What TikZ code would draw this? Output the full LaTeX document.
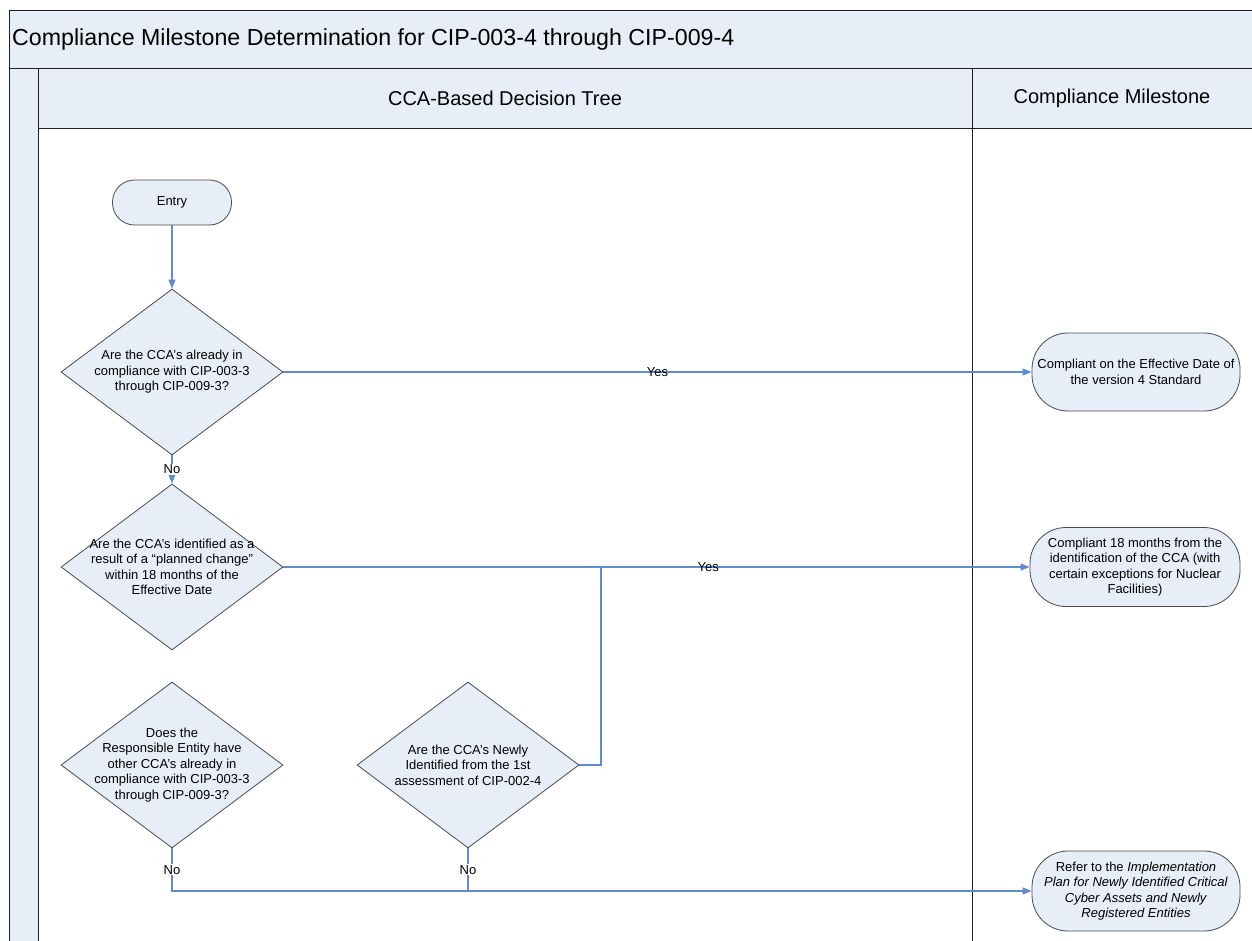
\documentclass[tikz,border=0pt]{standalone}
\usepackage{fontspec}
\setmainfont{Liberation Sans}
\usetikzlibrary{shapes.geometric,arrows.meta}
\definecolor{lanefill}{RGB}{232,238,248}
\definecolor{conn}{RGB}{96,140,206}
\definecolor{frame}{RGB}{30,30,30}
\begin{document}
\begin{tikzpicture}[x=1pt,y=-1pt,
  decision/.style={diamond,draw=frame!80,fill=lanefill,line width=0.8pt,minimum width=222pt,minimum height=166pt,inner sep=0pt},
  qtext/.style={align=center,font=\fontsize{13}{15.5}\selectfont,inner sep=0pt},
  terminal/.style={draw=frame!80,fill=lanefill,line width=0.8pt,align=center,font=\fontsize{13}{15.5}\selectfont,inner sep=0pt},
  link/.style={draw=conn,line width=1.1pt},
  arr/.style={link,-{Triangle[length=9pt,width=7pt]}},
  lbl/.style={font=\fontsize{13}{15}\selectfont,inner sep=1pt,fill=white},
  lblt/.style={font=\fontsize{13}{15}\selectfont,inner sep=1pt}
]
\useasboundingbox (0,0) rectangle (1252,941);
\fill[white] (0,0) rectangle (1252,941);
% frame and lanes
\fill[lanefill] (9,10) rectangle (1252,68);
\fill[lanefill] (9,68) rectangle (38,941);
\fill[lanefill] (38,68) rectangle (1252,128);
\draw[frame,line width=0.9pt] (1252,10) -- (9,10) -- (9,941);
\draw[frame,line width=0.9pt] (9,68) -- (1252,68);
\draw[frame,line width=0.9pt] (38,68) -- (38,941);
\draw[frame,line width=0.9pt] (38,128) -- (1252,128);
\draw[frame,line width=0.9pt] (972,68) -- (972,941);
\node[anchor=west,font=\fontsize{23.2}{26}\selectfont,inner sep=0pt] (title) at (12,40) {Compliance Milestone Determination for CIP-003-4 through CIP-009-4};
\node[font=\fontsize{20}{23}\selectfont,inner sep=0pt] (hdrA) at (505,98) {CCA-Based Decision Tree};
\node[font=\fontsize{20}{23}\selectfont,inner sep=0pt] (hdrB) at (1112,98) {Compliance Milestone};

% nodes
\node[terminal,minimum width=119pt,minimum height=45pt,rounded corners=22pt] (entry) at (172,202.5) {Entry};
\node[decision] (d1) at (172,372) {};
\node[qtext] (t1) at (172,372) {Are the CCA's already in\\compliance with CIP-003-3\\through CIP-009-3?};
\node[decision] (d2) at (172,567) {};
\node[qtext] (t2) at (172,567) {Are the CCA's identified as a\\result of a ``planned change''\\within 18 months of the\\Effective Date};
\node[decision] (d3) at (172,765) {};
\node[qtext] (t3) at (172,765) {Does the\\Responsible Entity have\\other CCA's already in\\compliance with CIP-003-3\\through CIP-009-3?};
\node[decision] (d4) at (468,765) {};
\node[qtext] (t4) at (468,765) {Are the CCA's Newly\\Identified from the 1st\\assessment of CIP-002-4};

\node[terminal,minimum width=208pt,minimum height=78pt,rounded corners=36pt] (m1) at (1136,372) {Compliant on the Effective Date of\\the version 4 Standard};
\node[terminal,minimum width=210pt,minimum height=79pt,rounded corners=36pt] (m2) at (1135,567) {Compliant 18 months from the\\identification of the CCA (with\\certain exceptions for Nuclear\\Facilities)};
\node[terminal,minimum width=208pt,minimum height=80pt,rounded corners=36pt] (m3) at (1136,891) {Refer to the \textit{Implementation}\\\textit{Plan for Newly Identified Critical}\\\textit{Cyber Assets and Newly}\\\textit{Registered Entities}};

\coordinate (j1) at (601,567);
\coordinate (j2) at (601,765);
\coordinate (b3) at (172,891);
\coordinate (b4) at (468,891);

% connectors
\draw[arr] (entry.south) -- (d1.north);
\draw[arr] (d1.south) -- node[lbl]{No} (d2.north);
\draw[arr] (d1.east) -- node[lblt,pos=0.5]{Yes} (d1.east -| m1.west);
\draw[arr] (d2.east) -- (j1) -- node[lblt,pos=0.25]{Yes} (j1 -| m2.west);
\draw[link] (d4.east) -- (j2) -- (j1);
\draw[link] (d3.south) -- node[lbl]{No} (b3) -- (b4);
\draw[arr] (d4.south) -- node[lbl]{No} (b4) -- (b4 -| m3.west);
\end{tikzpicture}
\end{document}
